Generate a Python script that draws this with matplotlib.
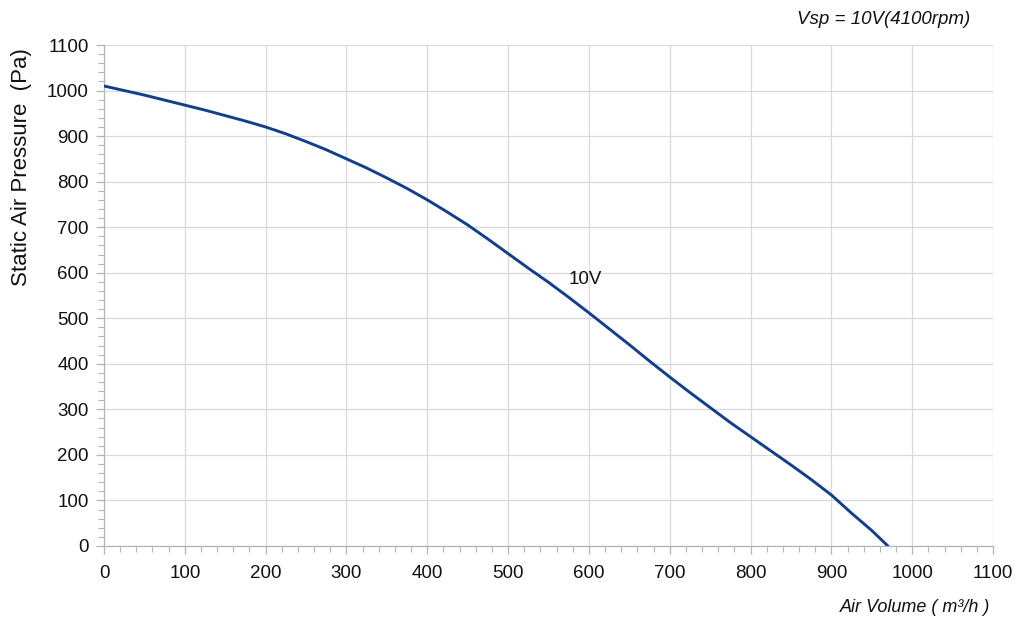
import matplotlib
matplotlib.use("Agg")
import matplotlib.pyplot as plt
from matplotlib.ticker import MultipleLocator

plt.rcParams['font.family'] = ['Liberation Sans', 'DejaVu Sans']

# Data
air_volume = [0, 25, 50, 75, 100, 125, 150, 175, 200, 225, 250, 275, 300,
              325, 350, 375, 400, 425, 450, 475, 500, 525, 550, 575, 600,
              625, 650, 675, 700, 725, 750, 775, 800, 825, 850, 875, 900,
              925, 950, 970]
pressure = [1010, 1000, 990, 979, 968, 957, 945, 933, 920, 905, 888, 870, 850,
            830, 808, 785, 760, 733, 705, 674, 642, 610, 579, 546, 512,
            477, 442, 406, 371, 337, 304, 271, 240, 209, 178, 146, 112,
            72, 34, 0]
x_ticks = list(range(0, 1101, 100))
y_ticks = list(range(0, 1101, 100))
series_label = "10V"
title = "Vsp = 10V(4100rpm)"

fig = plt.figure(figsize=(10.24, 6.24), dpi=100)
ax = fig.add_axes([104/1024, 78/624, 889/1024, 501/624])

ax.plot(air_volume, pressure, color='#123f8c', lw=2.1, solid_capstyle='round',
        solid_joinstyle='round', zorder=3)

ax.set_xlim(0, 1100)
ax.set_ylim(0, 1100)
ax.set_xticks(x_ticks)
ax.set_yticks(y_ticks)
ax.xaxis.set_minor_locator(MultipleLocator(20))
ax.yaxis.set_minor_locator(MultipleLocator(20))
ax.grid(True, which='major', color='#d9d9d9', lw=0.9)
ax.set_axisbelow(True)
for s in ['top', 'right']:
    ax.spines[s].set_visible(False)
for s in ['left', 'bottom']:
    ax.spines[s].set_color('#b5b5b5')
    ax.spines[s].set_linewidth(0.9)
ax.tick_params(which='major', length=6, color='#b5b5b5', width=0.9,
               labelsize=13.5, labelcolor='#111111')
ax.tick_params(axis='x', which='major', pad=8)
ax.tick_params(axis='y', which='major', pad=5)
ax.tick_params(which='minor', length=4, color='#b5b5b5', width=0.8)

ax.text(575, 585, series_label, fontsize=13.5, color='#111111', va='center', ha='left')

fig.text(970/1024, 1 - 20/624, title, fontsize=13.5, style='italic',
         ha='right', va='center', color='#111111')
fig.text(990/1024, 1 - 607/624, "Air Volume ( m³/h )", fontsize=13, style='italic',
         ha='right', va='center', color='#111111')
fig.text(22/1024, 1 - 167/624, "Static Air Pressure  (Pa)", fontsize=16,
         rotation=90, ha='center', va='center', color='#111111')

fig.savefig("out.png", dpi=100)
